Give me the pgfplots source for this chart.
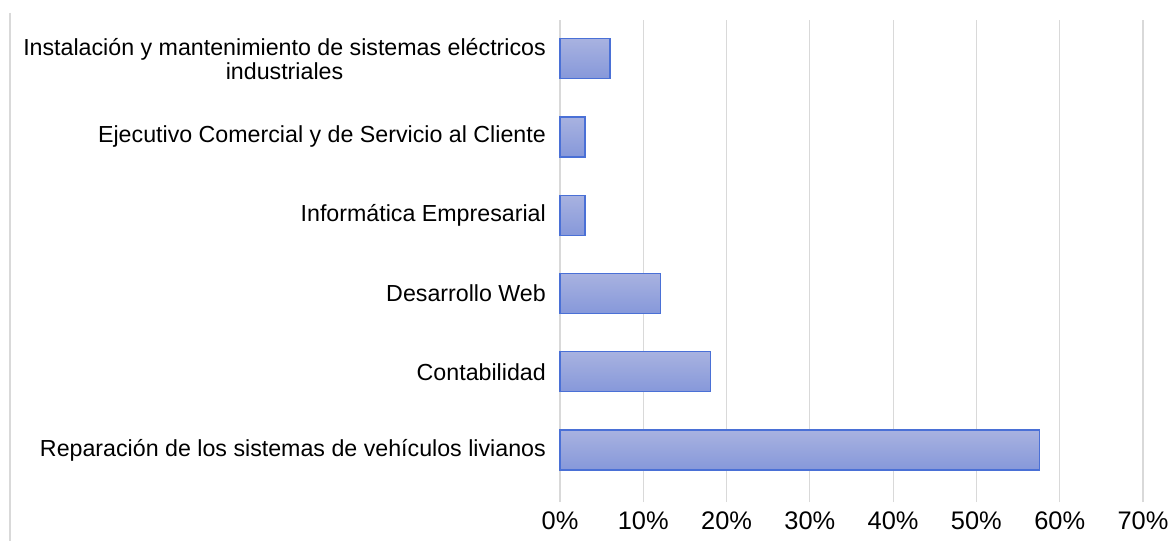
\documentclass[border=0pt]{standalone}
\usepackage{fontspec}
\setmainfont{Liberation Sans}
\usepackage{pgfplots}
\pgfplotsset{compat=1.18}
\definecolor{barTop}{RGB}{168,178,224}
\definecolor{barBot}{RGB}{134,152,218}
\definecolor{barEdge}{RGB}{74,112,214}
\definecolor{gridc}{RGB}{217,217,217}
\begin{document}
\begin{tikzpicture}
\begin{axis}[
  at={(0,0)}, anchor=south west,
  scale only axis,
  width=583bp, height=482bp,
  xmin=0, xmax=70,
  ymin=-0.664, ymax=5.495,
  xtick={0,10,...,70},
  xticklabels={0\%,10\%,20\%,30\%,40\%,50\%,60\%,70\%},
  ytick={0,1,2,3,4,5},
  yticklabels={
    Reparación de los sistemas de vehículos livianos,
    Contabilidad,
    Desarrollo Web,
    Informática Empresarial,
    Ejecutivo Comercial y de Servicio al Cliente,
    {Instalación y mantenimiento de sistemas eléctricos\\industriales}},
  major tick length=0pt,
  axis lines=left,
  axis line style={draw=none},
  xmajorgrids,
  major grid style={draw=gridc, line width=1.2bp},
  ymajorgrids=false,
  xticklabel style={font=\fontsize{25.5}{29}\selectfont, inner sep=0pt, anchor=north, yshift=-10bp},
  yticklabel style={font=\fontsize{23.3}{24}\selectfont, align=center, inner sep=0pt, anchor=east, xshift=-14bp},
  clip=false,
  bar bars/.style={xbar, bar width=40bp, bar shift=0pt, draw=barEdge, line width=1.2bp, top color=barTop, bottom color=barBot},
]
\addplot[bar bars] coordinates {(57.6,0)};
\addplot[bar bars] coordinates {(18.1,1)};
\addplot[bar bars] coordinates {(12.1,2)};
\addplot[bar bars] coordinates {(3.0,3)};
\addplot[bar bars] coordinates {(3.0,4)};
\addplot[bar bars] coordinates {(6.0,5)};
\end{axis}
\draw[gridc, line width=1.5bp] (-550bp,489bp) -- (-550bp,-39bp);
\pgfresetboundingbox
\path (-560bp,-39bp) rectangle (613bp,502bp);
\end{tikzpicture}
\end{document}
